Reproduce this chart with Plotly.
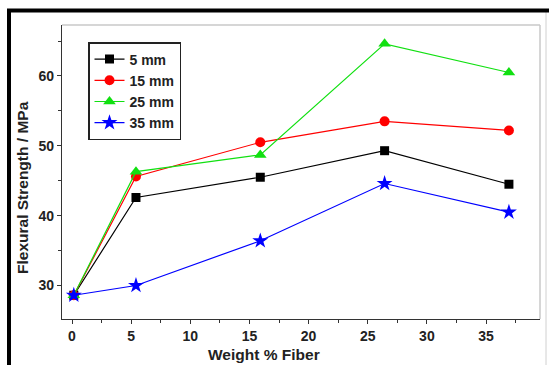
import plotly.graph_objects as go

fiber = [0, 5, 15, 25, 35]
s5 = [28.6, 42.6, 45.5, 49.3, 44.5]
s15 = [28.6, 45.6, 50.5, 53.5, 52.2]
s25 = [28.6, 46.3, 48.7, 64.6, 60.5]
s35 = [28.6, 30.0, 36.4, 44.6, 40.5]
names = ["5 mm", "15 mm", "25 mm", "35 mm"]
series = [s5, s15, s25, s35]
colors = ["#000000", "#ff0000", "#11e011", "#0000ff"]
symbols = ["square", "circle", "triangle-up", "star"]
msizes = [9, 10, 11, 12]

W, H = 549, 365
L, R, T, B = 62, 9, 25, 46
pw, ph = W - L - R, H - T - B

FONT = "Arial, Liberation Sans, sans-serif"

fig = go.Figure()
for n, s, c, sym, ms in zip(names, series, colors, symbols, msizes):
    fig.add_trace(go.Scatter(
        x=fiber, y=s, name=n, mode="lines+markers",
        line=dict(color=c, width=1.2),
        marker=dict(symbol=sym, size=ms, color=c),
        xaxis="x", yaxis="y",
    ))

def px_x(p):
    return (p - L) / pw

def px_y(p):
    return (H - B - p) / ph

shapes = [
    dict(type="line", xref="paper", yref="paper", x0=0, x1=1, y0=1, y1=1,
         line=dict(color="#c8c8c8", width=1.5)),
    dict(type="line", xref="paper", yref="paper", x0=1, x1=1, y0=0, y1=1,
         line=dict(color="#c8c8c8", width=1.5)),
    dict(type="line", xref="paper", yref="paper", x0=px_x(546), x1=px_x(546),
         y0=px_y(12), y1=px_y(380), line=dict(color="#d0d0d0", width=1)),
    dict(type="rect", xref="paper", yref="paper",
         x0=px_x(9), x1=px_x(580), y0=px_y(10.5), y1=px_y(400),
         line=dict(color="black", width=4)),
]

fig.update_layout(
    width=W, height=H,
    margin=dict(l=L, r=R, t=T, b=B),
    paper_bgcolor="white", plot_bgcolor="white",
    font=dict(family=FONT, color="#222"),
    showlegend=True,
    legend=dict(
        x=px_x(88), y=px_y(42), xanchor="left", yanchor="top",
        bordercolor="#222", borderwidth=1.5, bgcolor="white",
        font=dict(family=FONT, size=14, color="#222", weight="bold"),
        tracegroupgap=0, itemwidth=30,
    ),
    xaxis=dict(
        range=[-0.95, 37.5], visible=False, showgrid=False, zeroline=False,
    ),
    xaxis2=dict(
        overlaying="x", side="bottom", anchor="y",
        range=[-0.845, 39.56], tickmode="linear", tick0=0, dtick=5,
        showgrid=False, zeroline=False, showline=True, linecolor="#333",
        linewidth=1.2, ticks="outside", ticklen=4, tickcolor="#333",
        minor=dict(ticks="outside", ticklen=2.5, dtick=2.5, tickcolor="#333"),
        tickfont=dict(family=FONT, size=14, color="#222", weight="bold"),
    ),
    yaxis=dict(
        range=[25.2, 67.3], tickmode="linear", tick0=30, dtick=10,
        showgrid=False, zeroline=False, showline=True, linecolor="#333",
        linewidth=1.2, ticks="outside", ticklen=4, tickcolor="#333",
        minor=dict(ticks="outside", ticklen=2.5, dtick=5, tickcolor="#333"),
        tickfont=dict(family=FONT, size=14, color="#222", weight="bold"),
    ),
    shapes=shapes,
    annotations=[
        dict(text="<b>Weight % Fiber</b>", xref="paper", yref="paper",
             x=px_x(264), y=px_y(354), xanchor="center", yanchor="middle",
             showarrow=False, font=dict(family=FONT, size=15.5, color="#222")),
        dict(text="<b>Flexural Strength / MPa</b>", xref="paper", yref="paper",
             x=px_x(22), y=px_y(188), xanchor="center", yanchor="middle",
             textangle=-90, showarrow=False,
             font=dict(family=FONT, size=15.5, color="#222")),
    ],
)
fig.add_trace(go.Scatter(x=[0], y=[None], xaxis="x2", yaxis="y",
                         showlegend=False, hoverinfo="skip"))

fig.write_html("out.html")
